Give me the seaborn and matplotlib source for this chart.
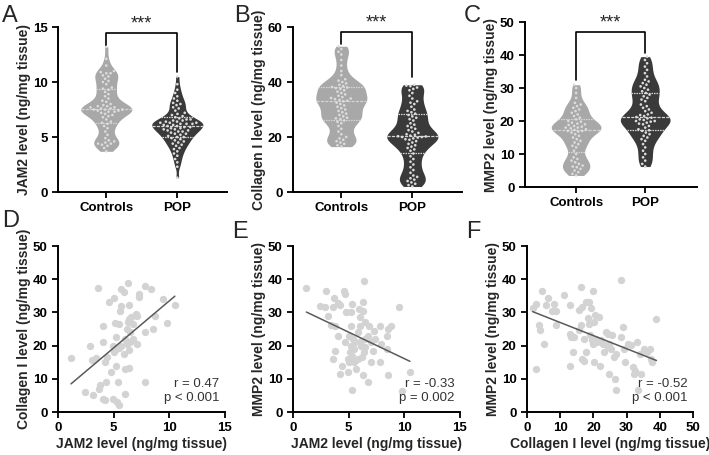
import warnings
import numpy as np
import pandas as pd
import matplotlib
matplotlib.use("Agg")
import matplotlib.pyplot as plt
import seaborn as sns

warnings.filterwarnings("ignore")

sns.set_theme(style="ticks")
plt.rcParams.update({
    'font.family': ['Liberation Sans', 'DejaVu Sans'],
    'font.weight': 'bold',
    'axes.linewidth': 1.4,
    'xtick.major.width': 1.3,
    'ytick.major.width': 1.3,
    'xtick.major.size': 4,
    'ytick.major.size': 4,
    'xtick.color': 'black',
    'ytick.color': 'black',
    'axes.edgecolor': 'black',
})

groups = ["Controls", "POP"]

# ---- violin data ----
jam2_ctrl = [13.2, 12.1, 11.5, 11.0, 10.9, 10.8, 10.8, 10.6, 10.5, 10.3, 10.1, 10.0, 9.8, 9.5, 9.4,
             9.3, 9.1, 8.9, 8.7, 8.5, 8.3, 8.2, 8.0, 7.9, 7.8, 7.8, 7.7, 7.7, 7.6, 7.6, 7.5, 7.5,
             7.5, 7.4, 7.4, 7.3, 7.3, 7.2, 7.1, 7.0, 6.9, 6.8, 6.6, 6.4, 6.3, 6.2, 6.0, 5.8, 5.5,
             5.2, 4.9, 4.7, 4.6, 4.5, 4.4, 4.4, 4.3, 4.2, 4.0, 3.7]
jam2_pop = [10.5, 9.8, 9.3, 9.0, 8.7, 8.5, 8.3, 8.1, 8.0, 7.9, 7.7, 7.6, 7.4, 7.2, 7.1, 7.0, 6.9,
            6.8, 6.7, 6.6, 6.6, 6.5, 6.5, 6.4, 6.4, 6.3, 6.3, 6.3, 6.2, 6.2, 6.2, 6.1, 6.1, 6.0,
            6.0, 5.9, 5.9, 5.8, 5.8, 5.7, 5.7, 5.6, 5.6, 5.5, 5.5, 5.4, 5.3, 5.3, 5.2, 5.1, 5.0,
            5.0, 4.9, 4.8, 4.7, 4.6, 4.5, 4.4, 4.3, 4.2, 4.0, 3.9, 3.7, 3.5, 3.3, 3.0, 2.7, 2.3, 1.3]
col_ctrl = [53, 52, 51, 50, 48, 46, 44, 42.5, 41, 40.5, 40, 39.5, 39, 38.5, 38.2, 38, 37.8, 37.5,
            37, 36.5, 36, 35.5, 35, 34.5, 34.2, 34, 33.8, 33.5, 33.2, 33, 32.5, 32, 31.5, 31, 30.5,
            30, 29.5, 29, 28.5, 28, 27.5, 27, 26.8, 26.5, 26, 25.5, 25, 24, 23, 22, 21, 20, 19.5,
            19, 18.5, 18, 17.5, 17, 16.5]
col_pop = [39, 38.7, 38.5, 38, 37.5, 37, 36, 35, 34, 33, 32.5, 32, 31, 30, 29.5, 29, 28.5, 28,
           27.5, 27, 26.5, 26, 25, 24.5, 24, 23.5, 23, 22.5, 22, 21.5, 21, 20.8, 20.5, 20.3, 20.2,
           20, 20, 19.8, 19.5, 19.2, 19, 18.5, 18, 17.5, 17, 16.5, 16, 15.5, 15, 14, 13, 12, 11,
           10, 9, 8, 7, 6, 5.5, 5, 4.5, 4, 3.5, 3, 2.5, 2]
mmp2_ctrl = [31, 30, 28.5, 27, 25.5, 25, 24.5, 24, 23.5, 23, 22.5, 22, 21.5, 21, 20.5, 20, 19.8,
             19.5, 19.2, 19, 18.8, 18.5, 18.3, 18, 18, 17.8, 17.5, 17.3, 17, 17, 16.8, 16.5, 16,
             15.5, 15, 14.5, 14, 13.5, 13, 12.5, 12, 11, 10, 9, 8.5, 8, 7.5, 7, 6.5, 6.2, 6,
             5.5, 5, 4.5, 4, 3.5]
mmp2_pop = [39.5, 38.5, 37.5, 36.5, 35.5, 34.5, 33.5, 32.5, 32, 31.5, 31, 30.5, 30, 29.5, 29, 28.5,
            28, 27.5, 27, 26.5, 26, 25, 24.5, 24, 23.5, 23, 22.5, 22, 21.8, 21.5, 21.2, 21, 20.8,
            20.5, 20.3, 20, 20, 19.8, 19.5, 19.2, 19, 18.5, 18, 17.5, 17.2, 17, 16.5, 16, 15.5, 15,
            14.5, 14, 13, 12, 11, 10, 9, 8, 7, 6.2]

# ---- scatter data ----
d_x = [1.17, 3.6, 2.9, 2.4, 3.1, 3.07, 3.4, 3.7, 3.8, 4.0, 4.0, 4.2, 4.0, 4.2, 4.4, 4.3, 4.6, 5.0,
       4.9, 5.0, 4.8, 4.9, 5.2, 5.2, 5.1, 5.3, 5.5, 5.4, 5.5, 5.5, 5.6, 5.7, 5.7, 5.9, 6.0, 5.9,
       6.0, 6.4, 6.0, 6.3, 6.4, 6.3, 6.2, 6.4, 6.6, 6.5, 6.7, 6.2, 6.5, 6.4, 6.7, 7.0, 7.1, 7.1,
       7.3, 7.3, 7.8, 7.8, 7.8, 8.4, 8.5, 8.7, 9.4, 9.8, 10.5, 5.2, 5.7]
d_y = [16.3, 37.3, 20, 6, 5, 15.8, 16.2, 7, 8, 26, 4, 3.5, 21, 15, 16.5, 9, 33, 34.2, 20, 18, 12,
       4, 22.5, 14, 26.7, 3, 2, 9, 19.3, 26.5, 30.3, 32, 37.2, 36, 22, 17.5, 13, 13.2, 5.5, 39,
       32.3, 27, 25, 28, 28.5, 24, 26.5, 20.5, 21, 18.7, 22, 29.5, 29, 20.5, 35.5, 34.5, 38, 24,
       9, 37.2, 25, 28.8, 34, 26.8, 32.3, 19, 20]

e_x = [1.2, 2.4, 3.0, 2.9, 3.1, 3.4, 3.6, 3.7, 4.0, 3.8, 3.6, 4.0, 4.2, 3.8, 4.2, 4.4, 4.6, 4.7,
       4.8, 4.7, 4.9, 5.0, 5.0, 5.2, 5.3, 5.2, 5.3, 5.2, 5.1, 5.3, 5.5, 5.4, 5.5, 5.6, 5.7, 5.8,
       5.9, 6.0, 6.1, 6.1, 6.0, 6.3, 6.3, 6.4, 6.3, 6.4, 6.5, 6.5, 6.7, 6.7, 6.8, 7.0, 7.0, 7.2,
       7.3, 7.4, 7.8, 7.8, 7.9, 8.4, 8.5, 8.8, 8.4, 8.5, 9.5, 9.8, 10.5, 5.8, 6.2, 4.9, 6.5]
e_y = [37.5, 31.8, 36.5, 31.5, 29, 26.2, 31.7, 34.2, 32.8, 26, 16, 23, 32.2, 18.5, 11.5, 14, 36.5,
       35.5, 30.2, 21, 16, 23, 15, 30.2, 32.5, 26, 6.5, 20, 18, 17, 19, 22, 15.2, 21, 13, 24, 31,
       28.5, 20, 21.5, 26, 33, 30.5, 39.5, 11, 18, 27, 22, 23, 9, 26, 21, 15, 18.5, 24.5, 22, 26,
       15, 20.5, 23, 25, 26, 19, 11.2, 31.5, 6.3, 12.2, 16, 16.5, 12, 19.5]

f_x = [1.7, 2.7, 2.7, 3.5, 3.8, 4.4, 5.0, 5.6, 6.4, 7.6, 8.1, 8.8, 8.8, 11.2, 12.9, 12.9, 13.2,
       13.0, 13.9, 14.2, 15.7, 15.7, 16.2, 16.5, 16.2, 16.5, 17.2, 17.9, 18.3, 18.6, 18.8, 19.0,
       19.3, 19.6, 19.8, 20.0, 20.3, 20.6, 20.3, 20.8, 21.1, 21.6, 22.0, 22.3, 22.8, 23.3, 23.8,
       24.3, 24.3, 24.6, 24.8, 25.4, 25.7, 26.1, 26.4, 26.7, 26.9, 28.4, 28.4, 28.9, 29.1, 29.4,
       30.4, 31.4, 31.9, 32.2, 32.5, 33.0, 33.5, 34.0, 34.2, 35.2, 36.0, 37.0, 37.5, 37.8, 39.0,
       17.2, 17.7]
f_y = [31.3, 32.6, 12.9, 26.3, 24.6, 36.6, 20.4, 32.1, 34.3, 30.3, 32.6, 26.3, 30.3, 35.3, 32.1,
       23.6, 22.6, 14.0, 18, 22.6, 24.6, 30.6, 37.7, 31.6, 26.3, 16, 15.5, 18, 28.3, 26.6, 33.2,
       23.2, 31.2, 21.6, 20.6, 36.6, 27.1, 29.1, 15, 22.1, 21.1, 28.5, 14, 21.6, 20.6, 18, 24.1,
       23.6, 19.6, 11.5, 20.6, 19.1, 23.1, 16.5, 9.8, 6.5, 17.5, 22.6, 39.7, 25.6, 19.1, 15, 20.6,
       20.1, 13.6, 11.5, 12.5, 21.1, 6.5, 17.5, 11.5, 19.1, 18, 19.1, 16, 15, 27.9, 22, 33.2]

stats_text = ["r = 0.47\np < 0.001", "r = -0.33\np = 0.002", "r = -0.52\np < 0.001"]

ctrl_color = "#a8a8a8"
pop_color = "#3a3a3a"
dot_color = "#dcdcdc"

fig = plt.figure(figsize=(7.09, 4.55), dpi=100)

top_pos = [[0.0818, 0.578, 0.2384, 0.3626],
           [0.4133, 0.578, 0.2384, 0.3626],
           [0.7405, 0.589, 0.2426, 0.3626]]
bot_pos = [[0.0818, 0.0945, 0.2355, 0.3648],
           [0.4133, 0.0945, 0.2355, 0.3648],
           [0.7433, 0.0945, 0.2341, 0.3648]]


def violin_panel(ax, ctrl, pop, ylabel, ymax, ystep, bracket, xlim):
    df = pd.DataFrame({"group": ["Controls"] * len(ctrl) + ["POP"] * len(pop),
                       "value": ctrl + pop})
    sns.violinplot(data=df, x="group", y="value", hue="group", order=groups,
                   palette=[ctrl_color, pop_color], saturation=1, cut=0, bw_adjust=0.5,
                   density_norm="width", width=0.72, linewidth=0, inner="quart",
                   inner_kws=dict(color="#d4d4d4", linewidth=0.9), legend=False, ax=ax)
    # invisible edge widens the swarm spacing a bit, like the dot rows in the original
    sns.swarmplot(data=df, x="group", y="value", order=groups, color=dot_color, size=1.9,
                  linewidth=0.9, edgecolor="none", ax=ax)
    ax.set_ylim(0, ymax)
    ax.set_yticks(np.arange(0, ymax + 0.1, ystep))
    ax.set_xlim(*xlim)
    ax.set_xlabel("")
    ax.set_ylabel(ylabel, fontsize=10, fontweight="bold", labelpad=1.5)
    ax.tick_params(labelsize=9.5)
    for lab in ax.get_xticklabels() + ax.get_yticklabels():
        lab.set_fontweight("bold")
    top, l_end, r_end = bracket
    ax.plot([0, 0, 1, 1], [l_end, top, top, r_end], color="black", lw=1.2, clip_on=False)
    ax.text(0.5, top, "***", ha="center", va="bottom", fontsize=13, fontweight="normal")
    sns.despine(ax=ax)


def scatter_panel(ax, x, y, xlabel, ylabel, xmax, xstep, note):
    sns.regplot(x=np.array(x), y=np.array(y), ci=None, ax=ax,
                scatter_kws=dict(color="#d3d3d3", s=28, alpha=1, linewidths=0),
                line_kws=dict(color="#5a5a5a", lw=1.1))
    ax.set_xlim(0, xmax)
    ax.set_ylim(0, 50)
    ax.set_xticks(np.arange(0, xmax + 0.1, xstep))
    ax.set_yticks(np.arange(0, 51, 10))
    ax.set_xlabel(xlabel, fontsize=10, fontweight="bold", labelpad=2)
    ax.set_ylabel(ylabel, fontsize=10, fontweight="bold", labelpad=1.5)
    ax.tick_params(labelsize=9.5)
    for lab in ax.get_xticklabels() + ax.get_yticklabels():
        lab.set_fontweight("bold")
    ax.text(0.965, 0.05, note, transform=ax.transAxes, ha="right", va="bottom",
            fontsize=9.5, fontweight="normal", color="#333333", linespacing=1.15)
    sns.despine(ax=ax)


axA = fig.add_axes(top_pos[0])
violin_panel(axA, jam2_ctrl, jam2_pop, "JAM2 level (ng/mg tissue)", 15, 5,
             (14.5, 13.3, 10.9), (-0.68, 1.70))
axB = fig.add_axes(top_pos[1])
violin_panel(axB, col_ctrl, col_pop, "Collagen I level (ng/mg tissue)", 60, 20,
             (58.2, 54, 42), (-0.68, 1.70))
axC = fig.add_axes(top_pos[2])
violin_panel(axC, mmp2_ctrl, mmp2_pop, "MMP2 level (ng/mg tissue)", 50, 10,
             (47, 32.4, 40.6), (-0.74, 1.75))

axD = fig.add_axes(bot_pos[0])
scatter_panel(axD, d_x, d_y, "JAM2 level (ng/mg tissue)", "Collagen I level (ng/mg tissue)",
              15, 5, stats_text[0])
axE = fig.add_axes(bot_pos[1])
scatter_panel(axE, e_x, e_y, "JAM2 level (ng/mg tissue)", "MMP2 level (ng/mg tissue)",
              15, 5, stats_text[1])
axF = fig.add_axes(bot_pos[2])
scatter_panel(axF, f_x, f_y, "Collagen I level (ng/mg tissue)", "MMP2 level (ng/mg tissue)",
              50, 10, stats_text[2])

# panel letters (left edge, baseline) in pixels
for letter, (px, py) in zip("ABCDEF", [(2, 22), (234, 22), (464, 22),
                                       (2, 227), (232, 238), (466, 238)]):
    fig.text(px / 709, 1 - py / 455, letter, fontsize=17, fontweight="normal",
             ha="left", va="baseline")

fig.savefig("out.png", dpi=100)
